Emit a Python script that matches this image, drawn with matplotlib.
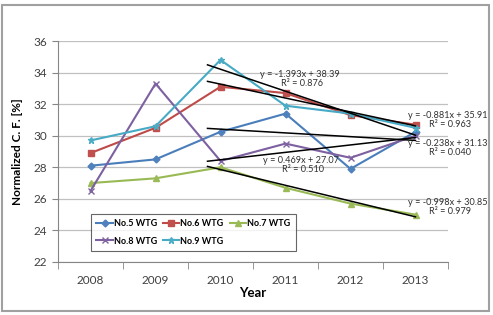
import matplotlib
matplotlib.use("Agg")
import matplotlib.pyplot as plt
from matplotlib.patches import Rectangle
import numpy as np

plt.rcParams['font.family'] = ['Lato', 'DejaVu Sans']

years = ["2008", "2009", "2010", "2011", "2012", "2013"]
wtg5 = [28.1, 28.5, 30.25, 31.4, 27.9, 30.25]
wtg6 = [28.9, 30.5, 33.1, 32.7, 31.3, 30.7]
wtg7 = [27.0, 27.3, 28.0, 26.7, 25.7, 25.0]
wtg8 = [26.5, 33.3, 28.4, 29.5, 28.6, 30.0]
wtg9 = [29.7, 30.6, 34.8, 31.9, 31.4, 30.5]
names = ["No.5 WTG", "No.6 WTG", "No.7 WTG", "No.8 WTG", "No.9 WTG"]

# trendlines (slope, intercept, R^2) over 2010-2013, x = year index 1..6
trend_slope = [-1.393, -0.881, -0.238, 0.469, -0.998]
trend_icpt = [38.39, 35.91, 31.13, 27.07, 30.85]
trend_r2 = ["0.876", "0.963", "0.040", "0.510", "0.979"]

line_colors = ["#4a7ebb", "#be4b48", "#98b954", "#7d60a0", "#46aac5"]
mk_colors = ["#4f81bd", "#c0504d", "#9bbb59", "#8064a2", "#4bacc6"]
markers = ["D", "s", "^", "x", "*"]
msizes = [3.5, 4.5, 4, 5, 5]

fig = plt.figure(figsize=(4.93, 3.15), dpi=100)
ax = fig.add_axes([58/493, 1-262/315, 390/493, 221/315])

x = np.arange(1, 7)
series = [wtg5, wtg6, wtg7, wtg8, wtg9]
handles = []
for s, n, lc, mc, m, ms in zip(series, names, line_colors, mk_colors, markers, msizes):
    h, = ax.plot(x, s, color=lc, lw=1.5, marker=m, ms=ms, mfc=mc, mec=mc, label=n, zorder=3)
    handles.append(h)

xt = np.array([2.8, 6.0])
for a, b in zip(trend_slope, trend_icpt):
    ax.plot(xt, a*xt + b, color="black", lw=1.1, zorder=4)

# equation labels (data coords)
lab_pos = [(4.22, 33.85), (6.5, 31.31), (6.5, 29.48), (4.24, 28.46), (6.5, 25.74)]
for (px, py), a, b, r2 in zip(lab_pos, trend_slope, trend_icpt, trend_r2):
    ax.text(px, py, f"y = {a:.3f}x + {b:.2f}", fontsize=6.6, color="#303030",
            ha="center", va="center", clip_on=False, zorder=5)
    ax.text(px + 0.03, py - 0.57, f"R² = {r2}", fontsize=6.6, color="#303030",
            ha="center", va="center", clip_on=False, zorder=5)

ax.set_xlim(0.5, 6.5)
ax.set_ylim(22, 36)
ax.set_yticks(np.arange(22, 37, 2))
ax.set_xticks(x)
ax.set_xticklabels(years)
ax.set_xticks(np.arange(0.5, 6.6, 1), minor=True)
ax.tick_params(axis="x", which="major", length=0, pad=9, labelsize=8.5, labelcolor="#404040")
ax.tick_params(axis="x", which="minor", length=5, color="#868686", direction="out")
ax.tick_params(axis="y", length=4, color="#868686", labelsize=8.5, labelcolor="#404040", pad=4)
ax.grid(axis="y", color="#c0c0c0", lw=0.9)
ax.set_axisbelow(True)
for sp in ["top", "right"]:
    ax.spines[sp].set_visible(False)
for sp in ["left", "bottom"]:
    ax.spines[sp].set_color("#868686")
ax.set_xlabel("Year", fontsize=9.5, fontweight="bold", labelpad=1)
ax.set_ylabel("Normalized C. F. [%]", fontsize=8.5, fontweight="bold", labelpad=7)

order = [0, 3, 1, 4, 2]
leg = ax.legend([handles[i] for i in order], [names[i] for i in order],
                ncol=3, loc="lower left", bbox_to_anchor=((91-58)/390, (262-251)/221),
                prop={"weight": "bold", "size": 6.5}, frameon=True, fancybox=False,
                handlelength=1.8, columnspacing=0.7, handletextpad=0.1, borderpad=0.6,
                labelspacing=0.9, borderaxespad=0)
leg.get_frame().set_edgecolor("#404040")
leg.get_frame().set_linewidth(0.8)

fig.patches.append(Rectangle((2/493, 4/315), 487/493, 306/315, transform=fig.transFigure,
                             fill=False, edgecolor="#a0a0a0", lw=1.5))

fig.savefig("out.png", dpi=100)
